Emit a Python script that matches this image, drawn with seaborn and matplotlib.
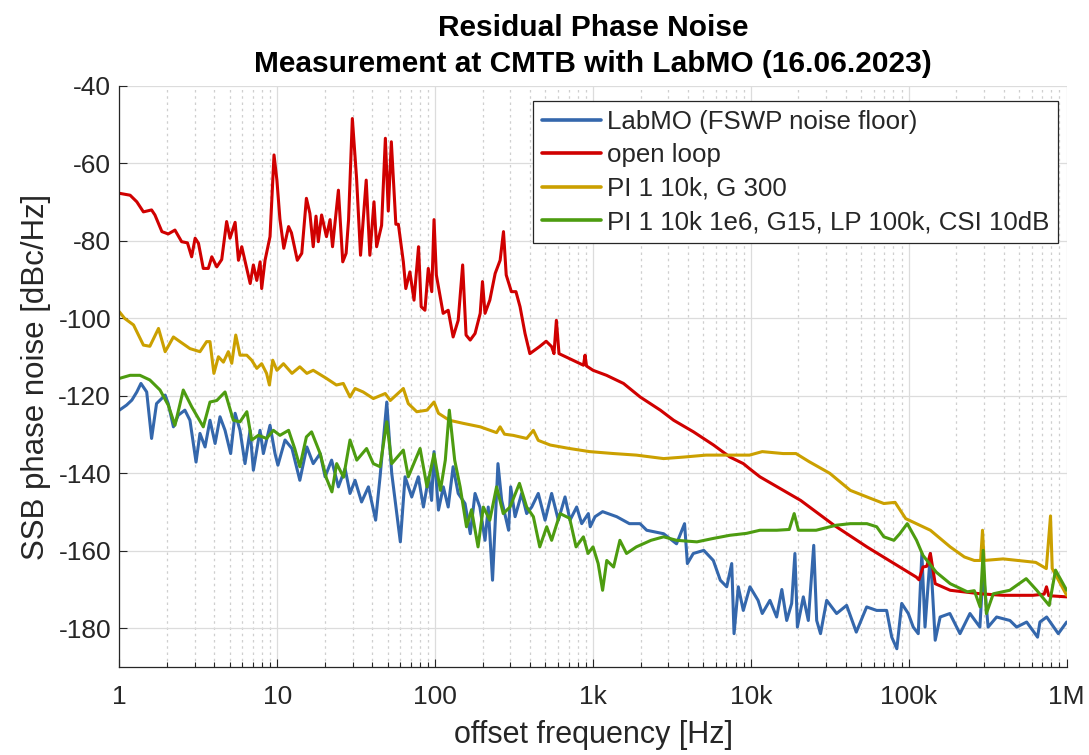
import numpy as np
import pandas as pd
import matplotlib
matplotlib.use("Agg")
import matplotlib.pyplot as plt
import seaborn as sns
from matplotlib.ticker import FixedLocator, LogLocator, NullFormatter

# ---- measured SSB phase noise traces (offset frequency in Hz, level in dBc/Hz) ----
labmo_f = [1.0, 1.11, 1.2, 1.29, 1.37, 1.49, 1.6, 1.72, 1.95, 2.04, 2.2, 2.36, 2.6, 2.8, 3.06,
           3.24, 3.49, 3.75, 4.04, 4.34, 4.67, 5.07, 5.41, 5.81, 6.25, 6.73, 7.06, 7.78, 8.17,
           9.0, 9.68, 10.1, 11.2, 12.4, 13.9, 15.4, 16.9, 18.7, 20.1, 22.1, 24.4, 26.9, 28.9,
           31.1, 34.2, 37.8, 42.0, 44.8, 49.4, 53.1, 60.2, 64.5, 71.1, 78.3, 84.3, 91.0, 95.0,
           98.4, 105, 112.7, 121, 130, 140, 154.6, 167, 179, 192, 207, 217, 231, 250, 264, 292,
           301, 321, 353, 380, 409, 450, 497, 547, 603, 665, 715, 788, 848, 934, 960, 1030,
           1150, 1413, 1700, 1985, 2188, 2800, 3380, 3800, 3960, 4315, 5030, 5780, 6400, 7030,
           7560, 7820, 8320, 8950, 9860, 11100, 11800, 13200, 14560, 15700, 16860, 18120,
           19000, 19700, 21480, 23100, 25000, 26100, 27600, 30200, 34900, 40400, 46500, 54100,
           62600, 72400, 78000, 84000, 90200, 99300, 106700, 114800, 121000, 126700, 137000,
           147000, 158000, 182000, 211000, 244000, 282000, 296000, 318000, 360000, 437000,
           482000, 558000, 654000, 677000, 747000, 885000, 1000000]
labmo_v = [-123.7, -122.4, -121.1, -119.0, -116.8, -119.0, -131.0, -122.0, -119.8, -122.0, -128.0,
           -125.0, -123.7, -126.3, -137.1, -129.7, -133.2, -126.3, -132.3, -125.4, -128.9, -134.9,
           -124.5, -128.9, -137.5, -128.9, -139.2, -128.9, -134.9, -127.6, -134.9, -137.9, -131.4,
           -133.6, -141.8, -133.2, -137.5, -134.9, -140.9, -136.6, -143.5, -138.8, -145.2, -141.8,
           -147.4, -143.5, -152.1, -140.9, -121.6, -140.0, -157.7, -140.9, -146.1, -140.9, -148.7,
           -141.0, -147.0, -134.4, -149.5, -143.5, -148.7, -138.3, -145.2, -147.8, -155.6, -145.2,
           -148.7, -157.3, -148.7, -167.6, -137.5, -147.0, -154.7, -143.5, -151.2, -145.2, -150.4,
           -148.7, -145.2, -152.1, -145.2, -152.1, -146.1, -152.1, -148.7, -153.0, -150.4, -153.8,
           -151.2, -149.9, -151.2, -153.0, -153.0, -154.7, -155.6, -158.2, -153.0, -163.3, -160.7,
           -159.9, -162.5, -167.6, -169.3, -163.3, -181.4, -169.3, -175.4, -169.3, -172.8, -176.2,
           -172.8, -177.1, -170.0, -178.0, -173.6, -160.7, -179.7, -171.9, -178.0, -158.6, -178.0,
           -181.4, -172.8, -176.2, -174.1, -181.0, -174.5, -175.4, -175.4, -182.3, -185.3, -173.6,
           -176.2, -179.7, -181.4, -160.7, -179.7, -160.7, -183.1, -177.1, -176.2, -181.4, -176.2,
           -179.7, -165.0, -179.7, -177.1, -178.0, -179.7, -178.4, -182.3, -178.4, -177.1, -181.4,
           -178.4]

open_f = [1.0, 1.17, 1.29, 1.42, 1.6, 1.68, 1.86, 2.04, 2.25, 2.48, 2.7, 2.87, 3.02, 3.17, 3.4,
          3.66, 3.85, 4.14, 4.45, 4.78, 5.02, 5.41, 5.68, 5.96, 6.42, 6.74, 7.06, 7.42, 7.79,
          7.97, 8.37, 9.0, 9.54, 9.95, 10.4, 11.0, 11.8, 12.3, 13.4, 14.3, 15.3, 16.1, 16.9,
          17.6, 18.2, 19.1, 20.5, 21.6, 22.4, 24.4, 26.0, 27.3, 28.3, 29.9, 31.8, 33.7, 36.6,
          38.6, 41.0, 42.6, 45.8, 48.4, 50.5, 52.8, 56.4, 58.5, 62.9, 65.2, 69.2, 73.5, 78.5,
          81.6, 86.2, 90.5, 95.2, 98.4, 101.8, 112.4, 121, 130, 140, 149.4, 157, 166.8, 179,
          193, 199.5, 207, 222, 240, 258, 271, 282, 304, 325, 345, 371, 398, 458, 505, 547,
          566, 586, 609, 711, 870, 890, 910, 1000, 1218, 1560, 1990, 2670, 3240, 4330, 5800,
          7360, 8960, 9800, 11400, 20660, 33600, 54300, 87600, 111600, 116000, 123000, 130000,
          137000, 147000, 183000, 283000, 394000, 612000, 720000, 745000, 770000, 1000000]
open_v = [-67.7, -68.2, -69.9, -72.5, -72.0, -73.3, -77.6, -78.2, -77.2, -80.2, -80.5, -84.1, -79.3,
          -80.6, -87.1, -87.1, -84.1, -86.7, -84.8, -75.0, -79.3, -75.2, -85.0, -81.5, -87.3, -91.0,
          -86.2, -90.2, -85.4, -92.3, -85.0, -78.9, -57.8, -64.3, -74.4, -81.9, -76.3, -77.9, -85.0,
          -83.2, -69.0, -72.9, -81.5, -73.6, -80.2, -73.3, -78.9, -74.5, -81.5, -66.9, -85.4, -83.2,
          -74.5, -48.4, -63.8, -83.7, -64.3, -83.7, -69.9, -81.5, -76.0, -53.5, -72.3, -54.4, -75.7,
          -75.7, -85.4, -92.3, -88.0, -95.3, -81.5, -97.0, -97.9, -87.1, -93.1, -74.5, -88.8, -98.7,
          -97.9, -104.8, -100.5, -86.2, -104.3, -105.6, -103.9, -98.7, -90.5, -98.7, -95.3, -88.4,
          -85.0, -77.6, -88.8, -93.1, -93.1, -97.0, -103.9, -109.1, -107.3, -105.9, -107.3, -109.1,
          -100.5, -109.1, -110.4, -112.1, -109.5, -112.3, -113.4, -114.7, -116.8, -120.3, -123.7,
          -126.3, -129.3, -132.7, -135.8, -137.5, -138.8, -140.9, -147.0, -153.4, -159.0, -164.2,
          -166.8, -167.5, -164.2, -164.0, -160.7, -168.5, -170.2, -171.1, -171.5, -171.5, -171.2,
          -169.3, -171.6, -171.9]

pi_g300_f = [1.0, 1.08, 1.23, 1.42, 1.56, 1.77, 1.95, 2.2, 2.42, 2.8, 3.24, 3.57, 3.75, 3.97, 4.24,
             4.56, 4.9, 5.15, 5.46, 5.81, 6.41, 6.89, 7.42, 7.97, 8.56, 8.92, 9.36, 9.95, 10.95,
             12.4, 13.9, 15.4, 16.9, 20.5, 23.7, 26.2, 28.9, 31.1, 35.0, 40.6, 48.3, 52.0, 62.9,
             67.6, 76.5, 88.8, 98.4, 105, 123, 150.6, 193, 245, 258, 275, 312, 380, 419, 450, 536,
             711, 952, 1350, 1880, 2800, 3770, 5200, 7360, 9800, 11800, 16000, 19300, 23400,
             31600, 42600, 54300, 69500, 81900, 95600, 137000, 183000, 225000, 260000, 285000,
             293000, 300000, 396000, 490000, 637000, 743000, 790000, 810000, 1000000]
pi_g300_v = [-98.3, -100.0, -101.7, -106.9, -107.2, -102.6, -108.6, -104.8, -106.0, -107.8, -108.6,
             -106.0, -106.0, -114.2, -109.9, -111.3, -108.6, -111.6, -104.3, -109.5, -109.5, -110.8,
             -112.9, -111.7, -114.2, -117.2, -110.8, -113.4, -111.7, -114.2, -112.5, -114.2, -113.4,
             -115.5, -117.2, -116.8, -120.3, -118.1, -119.0, -120.7, -119.4, -121.2, -118.1, -122.0,
             -124.1, -123.7, -121.6, -124.5, -126.3, -127.1, -128.0, -129.5, -128.0, -129.9, -130.2,
             -131.0, -128.9, -131.5, -132.7, -133.6, -134.4, -134.9, -135.3, -136.2, -135.8, -135.3,
             -135.3, -135.3, -134.4, -134.9, -134.9, -137.0, -140.0, -144.4, -146.1, -147.8, -147.5,
             -151.7, -154.7, -159.0, -161.6, -162.5, -162.5, -154.7, -162.5, -162.1, -162.5, -163.0,
             -164.6, -151.0, -164.6, -171.5]

pi_g15_f = [1.0, 1.17, 1.35, 1.56, 1.81, 2.04, 2.25, 2.54, 2.87, 3.4, 3.75, 4.14, 4.67, 5.27, 5.81,
            6.42, 6.89, 7.59, 8.56, 9.45, 10.4, 11.8, 12.9, 13.9, 15.3, 16.5, 18.7, 20.5, 22.2,
            23.8, 26.3, 28.9, 31.9, 36.8, 40.6, 44.8, 49.4, 53.1, 62.9, 67.6, 80.3, 88.8, 98.4,
            108, 116, 123, 133, 144, 158, 170, 187, 202, 222, 245, 270, 298, 342, 380, 419, 460,
            509, 547, 618, 711, 781, 869, 930, 1000, 1078, 1150, 1222, 1350, 1480, 1630, 1880,
            2330, 2800, 3380, 4550, 5800, 7360, 9400, 11400, 14600, 17500, 18800, 20000, 25900,
            34700, 42600, 54300, 62600, 69500, 80500, 87700, 97800, 112000, 123000, 149000,
            183000, 235000, 260000, 283000, 296000, 310000, 343000, 436000, 554000, 646000,
            775000, 850000, 1000000]
pi_g15_v = [-115.5, -114.7, -114.7, -115.9, -118.5, -122.4, -127.6, -118.5, -122.8, -128.0, -121.6,
            -121.2, -119.0, -126.3, -126.7, -124.1, -131.4, -130.2, -131.0, -128.9, -130.2, -128.9,
            -133.6, -138.3, -130.6, -129.3, -134.9, -141.3, -144.8, -137.5, -141.0, -131.4, -136.6,
            -133.6, -137.5, -138.3, -126.7, -137.5, -134.0, -140.9, -133.6, -143.5, -135.0, -144.4,
            -136.6, -123.7, -136.6, -143.5, -153.8, -149.4, -159.0, -148.7, -152.1, -143.5, -150.4,
            -148.7, -142.6, -148.7, -151.2, -159.0, -153.8, -157.3, -150.4, -151.6, -159.0, -156.4,
            -160.7, -159.0, -163.3, -170.2, -162.5, -164.2, -157.3, -160.7, -159.0, -157.3, -156.4,
            -157.3, -157.7, -156.8, -156.0, -155.5, -154.7, -154.7, -154.5, -150.4, -154.7, -154.7,
            -153.4, -153.0, -153.0, -153.8, -156.4, -157.3, -155.6, -153.0, -157.3, -161.2, -165.5,
            -168.5, -170.6, -170.3, -174.5, -159.9, -176.2, -171.1, -170.2, -167.2, -170.2, -174.1,
            -165.0, -170.2]

series_names = ["LabMO (FSWP noise floor)", "open loop", "PI 1 10k, G 300",
                "PI 1 10k 1e6, G15, LP 100k, CSI 10dB"]
series_colors = ["#3467AC", "#D00000", "#CBA000", "#4D9C10"]

tick_values = [1, 10, 100, 1e3, 1e4, 1e5, 1e6]
tick_labels = ["1", "10", "100", "1k", "10k", "100k", "1M"]
ytick_values = [-180, -160, -140, -120, -100, -80, -60, -40]

frames = []
for name, fx, vy in zip(series_names,
                        [labmo_f, open_f, pi_g300_f, pi_g15_f],
                        [labmo_v, open_v, pi_g300_v, pi_g15_v]):
    frames.append(pd.DataFrame({"f": fx, "v": vy, "series": name}))
df = pd.concat(frames, ignore_index=True)

sns.set_theme(style="white")
plt.rcParams["font.family"] = ["Liberation Sans", "DejaVu Sans"]
plt.rcParams["axes.unicode_minus"] = False

fig = plt.figure(figsize=(10.89, 7.55), dpi=100)
ax = fig.add_axes([0.1096, 0.1166, 0.8699, 0.7695])

sns.lineplot(data=df, x="f", y="v", hue="series", hue_order=series_names,
             palette=series_colors, linewidth=2.2, sort=False, estimator=None,
             ax=ax, legend=False)

ax.set_xscale("log")
ax.set_xlim(1, 1e6)
ax.set_ylim(-190, -40)

ax.xaxis.set_major_locator(FixedLocator(tick_values))
ax.set_xticklabels(tick_labels)
ax.xaxis.set_minor_locator(LogLocator(base=10, subs=np.arange(2, 10)))
ax.xaxis.set_minor_formatter(NullFormatter())
ax.yaxis.set_major_locator(FixedLocator(ytick_values))

ax.grid(which="major", color="#dcdcdc", linewidth=0.9, linestyle="-")
ax.grid(which="minor", axis="x", color="#cfcfcf", linewidth=0.9, linestyle=(0, (2, 3)))
ax.set_axisbelow(True)

for side in ["top", "right"]:
    ax.spines[side].set_visible(False)
for side in ["left", "bottom"]:
    ax.spines[side].set_color("#262626")
    ax.spines[side].set_linewidth(0.9)

ax.tick_params(axis="both", which="major", direction="in", length=6, width=0.8,
               color="#262626", labelsize=19, labelcolor="#262626")
ax.tick_params(axis="y", which="major", pad=6)
ax.tick_params(axis="x", which="major", pad=13)
ax.tick_params(axis="x", which="minor", direction="in", length=3.5, width=0.8,
               color="#262626", bottom=True)
ax.tick_params(axis="y", which="both", left=True)
ax.tick_params(axis="x", which="both", bottom=True)

ax.set_xlabel("offset frequency [Hz]", fontsize=22, color="#262626", labelpad=8)
ax.set_ylabel("SSB phase noise [dBc/Hz]", fontsize=22.5, color="#262626", labelpad=5)
ax.set_title("Residual Phase Noise\nMeasurement at CMTB with LabMO (16.06.2023)",
             fontsize=21.5, fontweight="bold", color="black", pad=10, linespacing=1.35)

handles = [plt.Line2D([], [], color=c, linewidth=2.6) for c in series_colors]
leg = ax.legend(handles, series_names, loc="upper right",
                bbox_to_anchor=(0.9908, 0.974), bbox_transform=ax.transAxes,
                fontsize=18.6, frameon=True, fancybox=False, edgecolor="#262626",
                framealpha=1, borderaxespad=0.0, handlelength=2.3,
                handletextpad=0.2, labelspacing=0.36, borderpad=0.35)
leg.get_frame().set_linewidth(0.9)

fig.savefig("out.png", dpi=100)
